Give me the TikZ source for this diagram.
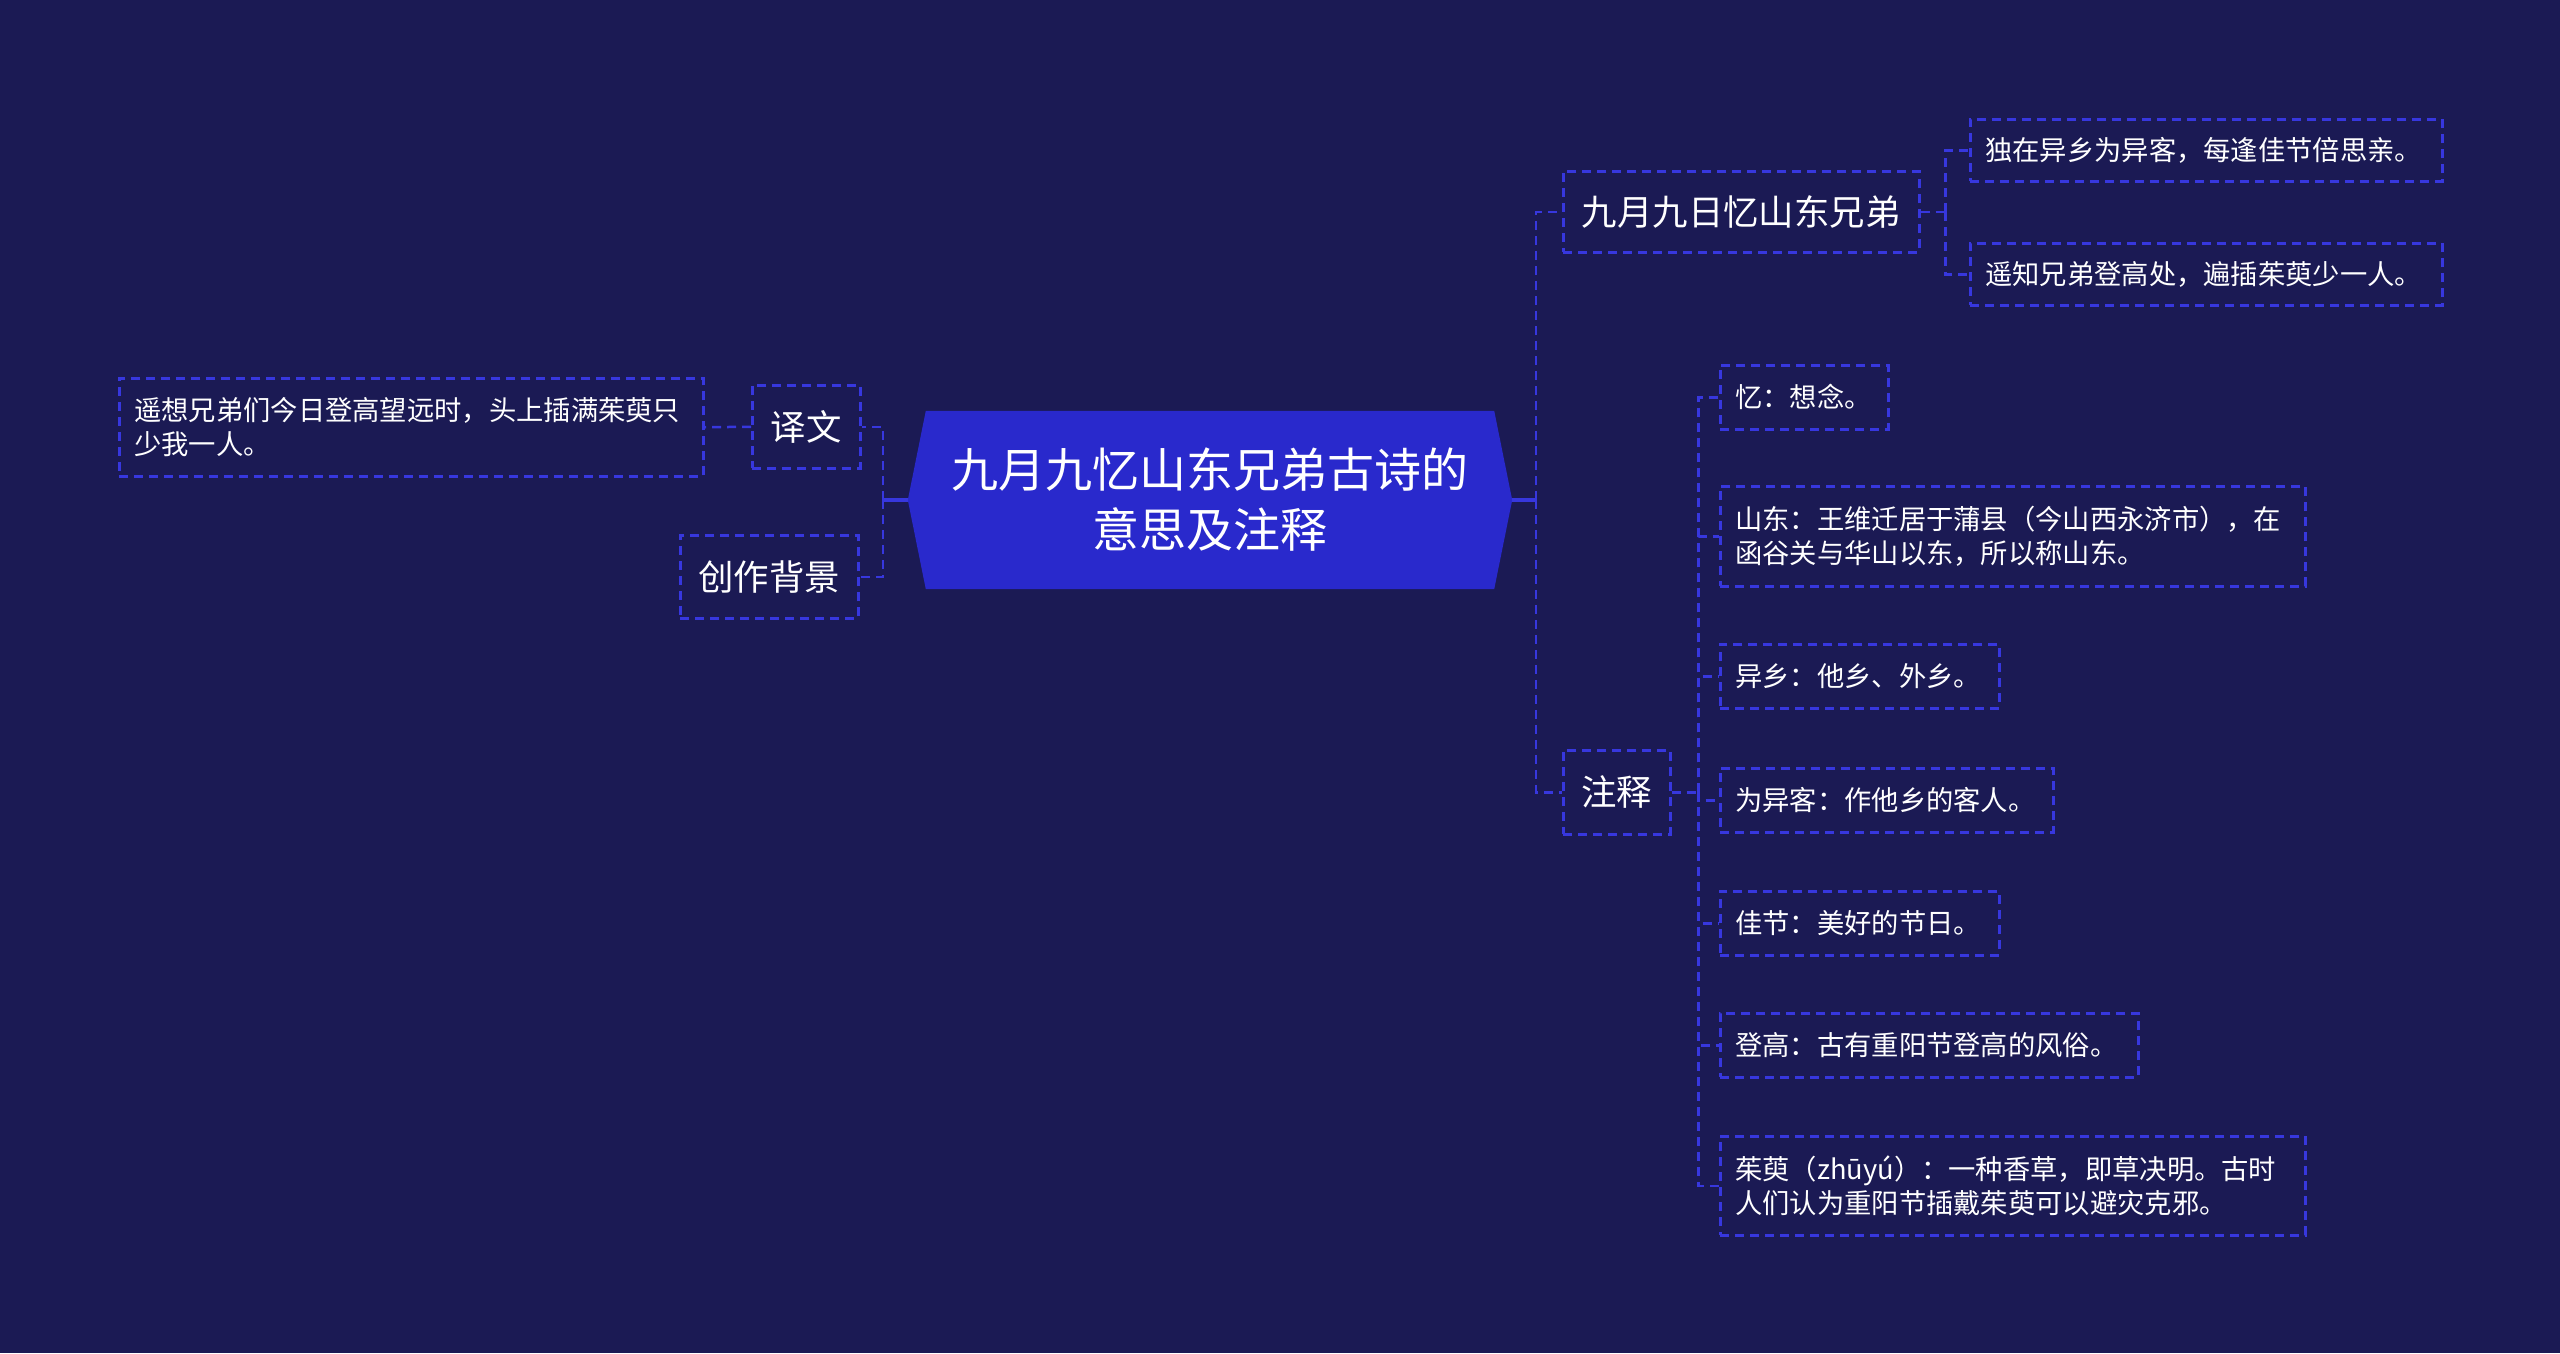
\documentclass[tikz,border=0pt]{standalone}
\usepackage{fontspec}
\setmainfont{Noto Sans CJK SC}
\usetikzlibrary{backgrounds}
\definecolor{bg}{RGB}{27,26,84}
\definecolor{hexc}{RGB}{41,41,204}
\definecolor{linec}{RGB}{55,55,222}
\begin{document}
\begin{tikzpicture}[x=1pt,y=-1pt,
  box/.style={draw=linec, line width=2.5pt, dash pattern=on 9pt off 6pt, text=white, inner ysep=0pt},
  leaf/.style={box, font=\fontsize{27.3}{34}\selectfont, inner xsep=15pt, align=left, anchor=north west},
  mid/.style={box, font=\fontsize{35.4}{42}\selectfont, inner xsep=0pt, align=center, anchor=north west},
  conn/.style={draw=linec, line width=2.5pt, dash pattern=on 9pt off 6pt},
  stub/.style={draw=linec, line width=3.5pt},
]
\begin{pgfonlayer}{background}
\fill[bg] (0,0) rectangle (2560,1353);
\end{pgfonlayer}

% central node
\node[minimum width=604pt, minimum height=178pt, text=white, inner sep=0pt,
      font=\fontsize{47}{60}\selectfont, align=center] (c) at (1210,500)
      {九月九忆山东兄弟古诗的\\意思及注释};
\begin{pgfonlayer}{background}
\fill[hexc] ([xshift=18pt]c.north west) -- ([xshift=-18pt]c.north east) -- (c.east)
  -- ([xshift=-18pt]c.south east) -- ([xshift=18pt]c.south west) -- (c.west) -- cycle;
\end{pgfonlayer}

% left side
\node[mid, minimum width=108pt, minimum height=83pt] (yw) at (751,384) {译文};
\node[mid, minimum width=178pt, minimum height=83pt] (bj) at (679,534) {创作背景};
\node[leaf, text width=554pt, minimum height=98pt] (lt) at (118,377)
  {遥想兄弟们今日登高望远时，头上插满茱萸只\\少我一人。};

% right side, level 1
\node[mid, minimum width=356pt, minimum height=81pt] (t1) at (1562,170) {九月九日忆山东兄弟};
\node[mid, minimum width=107pt, minimum height=84pt] (zs) at (1562,749) {注释};

% poem lines
\node[leaf, text width=442pt, minimum height=62pt] (p1) at (1969,118) {独在异乡为异客，每逢佳节倍思亲。};
\node[leaf, text width=442pt, minimum height=62pt] (p2) at (1969,242) {遥知兄弟登高处，遍插茱萸少一人。};

% notes
\node[leaf, text width=138pt, minimum height=64pt] (n1) at (1719,364) {忆：想念。};
\node[leaf, text width=555pt, minimum height=100pt] (n2) at (1719,485)
  {山东：王维迁居于蒲县（今山西永济市），在\\函谷关与华山以东，所以称山东。};
\node[leaf, text width=249pt, minimum height=64pt] (n3) at (1719,643) {异乡：他乡、外乡。};
\node[leaf, text width=303pt, minimum height=64pt] (n4) at (1719,767) {为异客：作他乡的客人。};
\node[leaf, text width=249pt, minimum height=64pt] (n5) at (1719,890) {佳节：美好的节日。};
\node[leaf, text width=388pt, minimum height=64pt] (n6) at (1719,1012) {登高：古有重阳节登高的风俗。};
\node[leaf, text width=555pt, minimum height=99pt] (n7) at (1719,1135)
  {茱萸（zhūyú）：一种香草，即草决明。古时\\人们认为重阳节插戴茱萸可以避灾克邪。};

% connectors
\draw[stub] (c.east) -- ++(24pt,0) coordinate (hr);
\draw[conn] (hr) |- (t1.west);
\draw[conn] (hr) |- (zs.west);
\draw[stub] (c.west) -- ++(-25pt,0) coordinate (hl);
\draw[conn] (hl) |- (yw.east);
\draw[conn] (hl) |- (bj.east);
\draw[conn] (yw.west) -- (lt.east);

\draw[conn] (t1.east) -- ++(25pt,0) coordinate (h1);
\foreach \n in {p1,p2} \draw[conn] (h1) |- (\n.west);

\draw[conn] (zs.east) -- ++(27pt,0) coordinate (h2);
\foreach \n in {n1,n2,n3,n4,n5,n6,n7} \draw[conn] (h2) |- (\n.west);
\end{tikzpicture}
\end{document}
